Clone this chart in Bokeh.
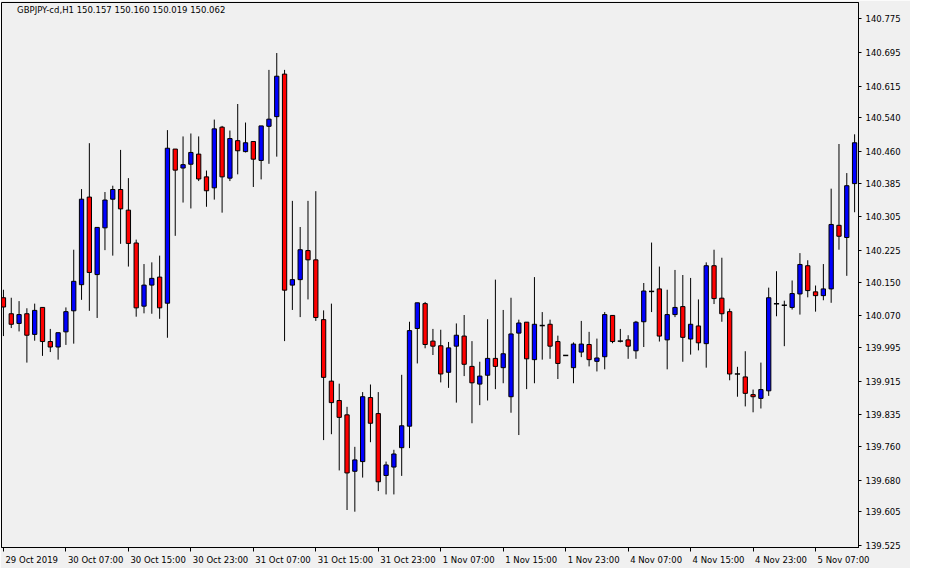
from bokeh.plotting import figure
from bokeh.models import FixedTicker, PrintfTickFormatter, Label, Range1d
from bokeh.embed import file_html
from bokeh.resources import INLINE

# ---- data (GBPJPY H1 candles) ----
opens = [140.113, 140.075, 140.052, 140.075, 140.026, 140.090, 140.009, 139.996, 140.032, 140.082,
         140.144, 140.352, 140.168, 140.279, 140.347, 140.370, 140.321, 140.243, 140.093, 140.143,
         140.162, 140.100, 140.466, 140.421, 140.430, 140.454, 140.400, 140.374, 140.518, 140.397,
         140.486, 140.460, 140.484, 140.439, 140.520, 140.543, 140.644, 140.143, 140.156, 140.225,
         140.203, 140.061, 139.915, 139.869, 139.835, 139.701, 139.724, 139.876, 139.838, 139.691,
         139.711, 139.757, 139.808, 140.040, 140.099, 140.010, 139.999, 139.936, 139.998, 140.022,
         139.950, 139.908, 139.929, 139.969, 139.947, 139.878, 140.029, 140.055, 139.966, 140.047,
         140.050, 140.009, 139.976, 139.947, 139.984, 140.002, 139.962, 139.973, 140.071, 140.010,
         140.013, 139.987, 140.056, 140.128, 140.134, 140.013, 140.073, 140.092, 140.015, 140.046,
         140.004, 140.189, 140.112, 140.080, 139.932, 139.925, 139.883, 139.874, 139.892, 140.099,
         140.095, 140.090, 140.122, 140.189, 140.127, 140.118, 140.134, 140.285, 140.256, 140.384]
highs = [140.132, 140.113, 140.105, 140.088, 140.099, 140.090, 140.039, 140.030, 140.090, 140.227,
         140.371, 140.480, 140.280, 140.364, 140.379, 140.464, 140.397, 140.251, 140.193, 140.197,
         140.213, 140.511, 140.466, 140.496, 140.503, 140.496, 140.415, 140.536, 140.521, 140.510,
         140.573, 140.529, 140.484, 140.521, 140.654, 140.694, 140.654, 140.343, 140.281, 140.343,
         140.366, 140.083, 140.099, 139.909, 139.854, 139.759, 139.889, 139.907, 139.889, 139.724,
         139.752, 139.930, 140.056, 140.101, 140.103, 140.039, 140.037, 140.008, 140.052, 140.072,
         140.010, 139.961, 140.062, 140.156, 140.084, 140.113, 140.061, 140.055, 140.162, 140.079,
         140.061, 140.023, 139.976, 140.007, 140.058, 140.032, 140.016, 140.079, 140.071, 140.039,
         140.024, 140.058, 140.148, 140.244, 140.187, 140.132, 140.179, 140.167, 140.160, 140.109,
         140.197, 140.227, 140.208, 140.087, 139.949, 139.986, 139.895, 139.959, 140.137, 140.176,
         140.106, 140.154, 140.219, 140.202, 140.142, 140.193, 140.372, 140.478, 140.409, 140.501]
lows = [140.022, 140.041, 140.033, 139.959, 140.011, 139.975, 139.984, 139.966, 140.001, 140.004,
        140.108, 140.082, 140.065, 140.226, 140.213, 140.241, 140.187, 140.068, 140.076, 140.075,
        140.063, 140.018, 140.260, 140.339, 140.325, 140.390, 140.329, 140.346, 140.315, 140.390,
        140.406, 140.458, 140.376, 140.394, 140.431, 140.448, 140.010, 140.084, 140.067, 140.109,
        140.058, 139.775, 139.789, 139.703, 139.609, 139.605, 139.686, 139.770, 139.654, 139.646,
        139.646, 139.690, 139.756, 139.957, 139.993, 139.977, 139.912, 139.899, 139.864, 139.927,
        139.815, 139.858, 139.869, 139.896, 139.910, 139.840, 139.787, 139.896, 139.910, 139.966,
        139.968, 139.920, 139.976, 139.910, 139.972, 139.950, 139.938, 139.943, 140.005, 140.007,
        139.968, 139.968, 139.996, 140.079, 140.009, 139.943, 140.067, 139.961, 139.978, 139.988,
        139.947, 140.098, 140.056, 139.917, 139.878, 139.855, 139.841, 139.850, 139.880, 140.069,
        139.998, 140.085, 140.073, 140.114, 140.080, 140.107, 140.101, 140.227, 140.165, 140.316]
closes = [140.091, 140.050, 140.073, 140.024, 140.083, 140.009, 139.996, 140.030, 140.080, 140.152,
          140.347, 140.173, 140.280, 140.345, 140.370, 140.324, 140.242, 140.089, 140.143, 140.159,
          140.089, 140.468, 140.416, 140.429, 140.458, 140.395, 140.367, 140.514, 140.400, 140.491,
          140.462, 140.481, 140.442, 140.521, 140.537, 140.639, 140.131, 140.156, 140.227, 140.203,
          140.066, 139.924, 139.864, 139.829, 139.697, 139.728, 139.878, 139.815, 139.676, 139.716,
          139.742, 139.809, 140.035, 140.101, 140.002, 139.998, 139.932, 139.994, 140.024, 139.955,
          139.911, 139.927, 139.969, 139.950, 139.980, 140.027, 140.053, 139.968, 140.050, 140.047,
          139.998, 139.957, 139.976, 140.003, 140.003, 139.966, 139.970, 140.073, 140.009, 140.010,
          139.998, 140.055, 140.129, 140.128, 140.022, 140.073, 140.090, 140.019, 140.050, 140.006,
          140.189, 140.111, 140.075, 139.932, 139.932, 139.886, 139.878, 139.895, 140.113, 140.099,
          140.095, 140.123, 140.192, 140.130, 140.118, 140.134, 140.287, 140.259, 140.379, 140.481]

time_labels = ["29 Oct 2019", "30 Oct 07:00", "30 Oct 15:00", "30 Oct 23:00", "31 Oct 07:00",
               "31 Oct 15:00", "31 Oct 23:00", "1 Nov 07:00", "1 Nov 15:00", "1 Nov 23:00",
               "4 Nov 07:00", "4 Nov 15:00", "4 Nov 23:00", "5 Nov 07:00"]
label_every = 8  # one time label every 8 hourly bars
price_ticks = [140.775, 140.695, 140.615, 140.540, 140.460, 140.385, 140.305, 140.225, 140.150,
               140.070, 139.995, 139.915, 139.835, 139.760, 139.680, 139.605, 139.525]
title_text = "GBPJPY-cd,H1  150.157 150.160 150.019 150.062"

# ---- styling ----
BG = "#F0F0F0"
FONT = "DejaVu Sans"
FSZ = 8.5
FS = f"{FSZ}px"
W, H = 910, 568
LEFT, TOP, RIGHT, BOTTOM = 1, 2, 52, 21
Y0, Y1 = 139.520, 140.814

n = len(opens)
idx = list(range(n))
X0, X1 = -0.25, n - 0.5

p = figure(width=W, height=H, output_backend="svg", toolbar_location=None,
           x_range=Range1d(X0, X1), y_range=Range1d(Y0, Y1),
           y_axis_location="right", background_fill_color=BG, border_fill_color=BG,
           min_border_left=LEFT, min_border_top=TOP, min_border_right=RIGHT, min_border_bottom=BOTTOM)
p.grid.visible = False
p.outline_line_color = "black"
p.outline_line_width = 1

# wicks
p.segment(x0=idx, y0=lows, x1=idx, y1=highs, line_color="black", line_width=1)

# bodies
bx, btop, bbot, bcol = [], [], [], []
dx, dy = [], []
for i, o, c in zip(idx, opens, closes):
    if abs(c - o) < 1e-9:
        dx.append(i)
        dy.append(o)
    else:
        bx.append(i)
        btop.append(max(o, c))
        bbot.append(min(o, c))
        bcol.append("#0000FF" if c > o else "#FF0000")
p.vbar(x=bx, top=btop, bottom=bbot, width=0.55, fill_color=bcol, line_color="black", line_width=1)
# doji bars drawn as horizontal dashes
hw = 0.33
p.segment(x0=[x - hw for x in dx], y0=dy, x1=[x + hw for x in dx], y1=dy,
          line_color="black", line_width=1.5)

# ---- x axis: MT4 puts each time label just right of its tick ----
# tick marks at the real bar positions (drawn as "minor" ticks), labels centred
# at a position shifted by half their rendered width so they read left-aligned.
ADV = {"0": 1303, "1": 1303, "2": 1303, "3": 1303, "4": 1303, "5": 1303, "6": 1303,
       "7": 1303, "8": 1303, "9": 1303, " ": 651, ":": 690, "O": 1612, "c": 1126,
       "t": 803, "N": 1532, "o": 1253, "v": 1212}


def text_w(s):
    return sum(ADV.get(ch, 1250) for ch in s) / 2048.0 * FSZ


frame_w = W - LEFT - RIGHT
px_per_unit = frame_w / (X1 - X0)
tick_pos = [k * label_every for k in range(len(time_labels))]
lab_pos = [t + (2 + text_w(s) / 2) / px_per_unit for t, s in zip(tick_pos, time_labels)]

xa = p.xaxis[0]
xa.ticker = FixedTicker(ticks=lab_pos, minor_ticks=tick_pos)
xa.major_label_overrides = {pos: s for pos, s in zip(lab_pos, time_labels)}
xa.major_tick_out = 0
xa.major_tick_in = 0
xa.minor_tick_out = 4
xa.minor_tick_in = 0
xa.minor_tick_line_color = "black"
xa.major_label_standoff = 3
xa.axis_line_color = "black"
xa.major_label_text_font = FONT
xa.major_label_text_font_size = FS
xa.major_label_text_color = "black"

ya = p.yaxis[0]
ya.ticker = FixedTicker(ticks=price_ticks)
ya.formatter = PrintfTickFormatter(format="%.3f")
ya.major_tick_out = 3
ya.major_tick_in = 0
ya.minor_tick_out = 0
ya.minor_tick_in = 0
ya.major_label_standoff = 4
ya.axis_line_color = "black"
ya.major_tick_line_color = "black"
ya.major_label_text_font = FONT
ya.major_label_text_font_size = FS
ya.major_label_text_color = "black"

# chart caption (top-left, inside the frame)
p.add_layout(Label(x=1.75, y=140.796, text=title_text, text_font=FONT, text_font_size=FS,
                   text_color="black", text_baseline="middle", text_align="left"))

open("out.html", "w").write(file_html(p, INLINE))
